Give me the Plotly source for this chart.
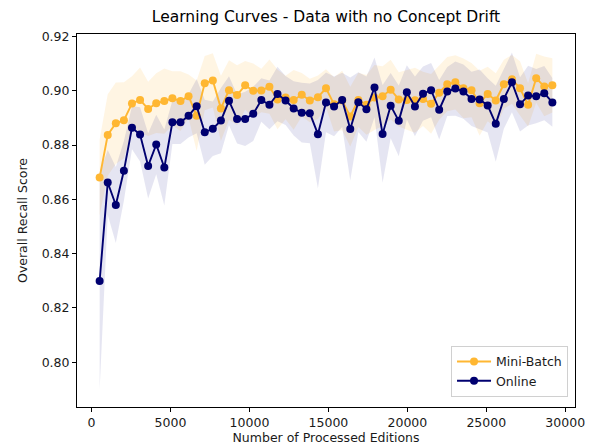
import plotly.graph_objects as go

editions = [512, 1024, 1536, 2048, 2560, 3072, 3584, 4096, 4608, 5120, 5632, 6144, 6656, 7168,
            7680, 8192, 8704, 9216, 9728, 10240, 10752, 11264, 11776, 12288, 12800, 13312, 13824,
            14336, 14848, 15360, 15872, 16384, 16896, 17408, 17920, 18432, 18944, 19456, 19968,
            20480, 20992, 21504, 22016, 22528, 23040, 23552, 24064, 24576, 25088, 25600, 26112,
            26624, 27136, 27648, 28160, 28672, 29184]

minibatch_mean = [0.8680, 0.8837, 0.8880, 0.8891, 0.8953, 0.8966, 0.8933, 0.8954, 0.8962, 0.8972,
                  0.8962, 0.8980, 0.8908, 0.9028, 0.9038, 0.8935, 0.9002, 0.8984, 0.9020, 0.9000,
                  0.9001, 0.9015, 0.8968, 0.8975, 0.8966, 0.8985, 0.8964, 0.8976, 0.9009, 0.8950,
                  0.8964, 0.8905, 0.8966, 0.8948, 0.8975, 0.8980, 0.9004, 0.8968, 0.8966, 0.8965,
                  0.8970, 0.8952, 0.8993, 0.9024, 0.9031, 0.9009, 0.9002, 0.8954, 0.8988, 0.8964,
                  0.9024, 0.9042, 0.9009, 0.8948, 0.9046, 0.9016, 0.9020]

minibatch_std = [0.014, 0.015, 0.015, 0.014, 0.010, 0.012, 0.010, 0.011, 0.012, 0.010,
                 0.011, 0.008, 0.013, 0.010, 0.010, 0.012, 0.011, 0.011, 0.009, 0.010,
                 0.008, 0.010, 0.011, 0.008, 0.011, 0.008, 0.008, 0.008, 0.007, 0.010,
                 0.011, 0.011, 0.010, 0.011, 0.012, 0.011, 0.011, 0.010, 0.011, 0.012,
                 0.010, 0.011, 0.010, 0.010, 0.010, 0.011, 0.010, 0.012, 0.010, 0.010,
                 0.009, 0.009, 0.010, 0.008, 0.009, 0.011, 0.010]

online_mean = [0.8299, 0.8662, 0.8579, 0.8705, 0.8864, 0.8839, 0.8723, 0.8802, 0.8717, 0.8884,
               0.8884, 0.8908, 0.8943, 0.8847, 0.8860, 0.8890, 0.8963, 0.8896, 0.8896, 0.8915,
               0.8966, 0.8948, 0.8988, 0.8964, 0.8935, 0.8919, 0.8917, 0.8840, 0.8957, 0.8942,
               0.8966, 0.8859, 0.8958, 0.8932, 0.9012, 0.8841, 0.8945, 0.8889, 0.8994, 0.8942,
               0.8989, 0.9002, 0.8930, 0.8997, 0.9008, 0.8997, 0.8970, 0.8968, 0.8946, 0.8878,
               0.8970, 0.9031, 0.8950, 0.8982, 0.8980, 0.8991, 0.8957]

online_std = [0.040, 0.012, 0.014, 0.011, 0.008, 0.010, 0.012, 0.011, 0.014, 0.008,
              0.008, 0.008, 0.010, 0.012, 0.010, 0.012, 0.009, 0.009, 0.010, 0.010,
              0.008, 0.009, 0.010, 0.009, 0.010, 0.011, 0.011, 0.020, 0.011, 0.011,
              0.010, 0.019, 0.011, 0.012, 0.011, 0.018, 0.012, 0.013, 0.010, 0.011,
              0.010, 0.010, 0.011, 0.009, 0.010, 0.010, 0.010, 0.011, 0.010, 0.014,
              0.011, 0.011, 0.010, 0.011, 0.010, 0.010, 0.009]

x_ticks = [0, 5000, 10000, 15000, 20000, 25000, 30000]
y_ticks = [0.80, 0.82, 0.84, 0.86, 0.88, 0.90, 0.92]

ORANGE = "#FFB732"
NAVY = "#000070"
FONT = "DejaVu Sans"

fig = go.Figure()


def add_band(mean, std, fill):
    upper = [m + s for m, s in zip(mean, std)]
    lower = [m - s for m, s in zip(mean, std)]
    fig.add_trace(go.Scatter(x=editions, y=upper, mode="lines", line=dict(width=0),
                             showlegend=False, hoverinfo="skip"))
    fig.add_trace(go.Scatter(x=editions, y=lower, mode="lines", line=dict(width=0),
                             fill="tonexty", fillcolor=fill, showlegend=False, hoverinfo="skip"))


add_band(minibatch_mean, minibatch_std, "rgba(255,165,0,0.11)")
add_band(online_mean, online_std, "rgba(0,0,128,0.10)")

fig.add_trace(go.Scatter(x=editions, y=minibatch_mean, mode="lines+markers", name="Mini-Batch",
                         line=dict(color=ORANGE, width=1.9),
                         marker=dict(color=ORANGE, size=8)))
fig.add_trace(go.Scatter(x=editions, y=online_mean, mode="lines+markers", name="Online",
                         line=dict(color=NAVY, width=1.9),
                         marker=dict(color=NAVY, size=8)))

axis_common = dict(showline=True, mirror=True, linecolor="black", linewidth=1,
                   ticks="outside", ticklen=4, tickcolor="black", showgrid=False,
                   zeroline=False, tickfont=dict(family=FONT, size=12.5, color="#1a1a1a"))

fig.update_xaxes(range=[-922, 30618], tickvals=x_ticks,
                 ticktext=[str(v) for v in x_ticks],
                 title=dict(text="Number of Processed Editions",
                            font=dict(family=FONT, size=12.5, color="#1a1a1a"), standoff=4),
                 **axis_common)
fig.update_yaxes(range=[0.7835, 0.9209], tickvals=y_ticks,
                 ticktext=["%.2f" % v for v in y_ticks],
                 title=dict(text="Overall Recall Score",
                            font=dict(family=FONT, size=12.5, color="#1a1a1a"), standoff=11),
                 **axis_common)

fig.update_layout(
    width=591, height=447,
    margin=dict(l=77, r=16, t=34, b=40, autoexpand=False),
    paper_bgcolor="white", plot_bgcolor="white",
    title=dict(text="Learning Curves - Data with no Concept Drift",
               font=dict(family=FONT, size=15.5, color="black"),
               x=0.5, xref="paper", y=1 - 17 / 447, yref="container", yanchor="middle"),
    legend=dict(x=0.986, y=0.027, xanchor="right", yanchor="bottom",
                traceorder="normal",
                bgcolor="rgba(255,255,255,0.8)", bordercolor="#d0d0d0", borderwidth=1,
                font=dict(family=FONT, size=12.5, color="#1a1a1a"),
                tracegroupgap=2, itemwidth=34),
    font=dict(family=FONT),
)

fig.write_html("out.html", config={"displayModeBar": False},
               post_script="document.body.style.margin='0px';document.body.style.overflow='hidden';")
